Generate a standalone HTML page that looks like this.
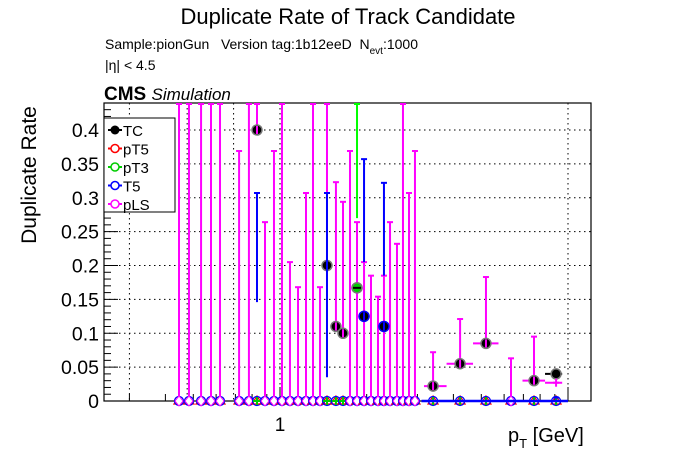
<!DOCTYPE html>
<html><head><meta charset="utf-8"><style>
body{margin:0;background:#fff;}
svg{display:block;font-family:"Liberation Sans",sans-serif;}
</style></head><body>
<svg id="chart" width="696" height="472" viewBox="0 0 696 472">
<rect width="696" height="472" fill="#fff"/>
<text x="348" y="24" font-size="22" text-anchor="middle">Duplicate Rate of Track Candidate</text>
<text x="105" y="49" font-size="14">Sample:pionGun&#160;&#160;&#160;Version tag:1b12eeD&#160;&#160;N<tspan font-size="10" dy="5">evt</tspan><tspan dy="-5">:1000</tspan></text>
<text x="105" y="70" font-size="14">|η| &lt; 4.5</text>
<text x="104" y="100" font-size="19" font-weight="bold">CMS <tspan font-weight="normal" font-style="italic" font-size="17">Simulation</tspan></text>
<text transform="translate(36,175) rotate(-90)" font-size="21" text-anchor="middle">Duplicate Rate</text>
<text x="508" y="442" font-size="20">p<tspan font-size="13" dy="6">T</tspan><tspan dy="-6"> [GeV]</tspan></text>
<g id="grid"></g>
<g id="axes"></g>
<g id="marks"></g>
<g id="legend">
<rect x="104" y="118" width="71" height="94" fill="#fff" stroke="#000" stroke-width="1"/>
</g>
</svg>
<script>
const pt = [0.446,0.483,0.532,0.576,0.619,0.721,0.780,0.832,0.887,0.953,1.016,1.083,1.155,1.231,1.302,1.377,1.456,1.564,1.655,1.750,1.851,1.958,2.070,2.189,2.296,2.410,2.548,2.673,2.805,2.942,3.40,4.22,5.19,6.34,7.62,9.09];
const tcRate = [0,0,0,0,0,0,0,0.4,0,0,0,0,0,0,0,0,0.2,0.11,0.1,0,0.167,0.125,0,0,0.11,0,0,0,0,0,0.022,0.055,0.085,0,0.03,0.04];
const plsRate = [0,0,0,0,0,0,0,0.4,0,0,0,0,0,0,0,0,0.2,0.11,0.1,0,0,0,0,0,0,0,0,0,0,0,0.022,0.055,0.085,0,0.03,0.027];
const plsUpper = [0.5,0.5,0.5,0.5,0.5,0.369,0.5,0.5,0.264,0.369,0.5,0.205,0.168,0.307,0.5,0.168,0.5,0.323,0.294,0.369,0.264,0.205,0.185,0.154,0.185,0.264,0.232,0.5,0.307,0.369,0.072,0.121,0.183,0.063,0.095,0.027];
const pt3Point = [1.851]; const pt3Value=[0.167]; const pt3Upper=[0.5]; const pt3Lower=[0.27];
const t5Point = [0.832,1.456,1.958,2.296,9.09]; const t5Value=[0,0,0.125,0.11,0.005]; const t5Upper=[0.307,0.307,0.357,0.322,0.005]; const t5Lower=[0.146,0.035,0.205,0.185,0.005];
const yTicks = [0,0.05,0.1,0.15,0.2,0.25,0.3,0.35,0.4];
const yTickLabels = ["0","0.05","0.1","0.15","0.2","0.25","0.3","0.35","0.4"];
const xGrid = [0.3,0.476,0.69,1,10];
const legendLabels = ["TC","pT5","pT3","T5","pLS"];
const legendColors = ["#000","#f00","#0c0","#00f","#f0f"];

const L=104,R=591,T=103,B=401;
const ys=v=>B-v*677.5;
const xs=p=>280+Math.log10(p)*288;
const NS="http://www.w3.org/2000/svg";
function mk(parent,tag,attrs){const e=document.createElementNS(NS,tag);for(const k in attrs)e.setAttribute(k,attrs[k]);document.getElementById(parent).appendChild(e);return e;}
const clip=v=>Math.max(ys(Math.min(v,0.44)),T);

yTicks.forEach((v,i)=>{if(i===0)return;const l=mk('grid','line',{x1:L,x2:R,y1:ys(v),y2:ys(v),stroke:'#000','stroke-dasharray':'1.5,3.5','stroke-width':1});

});
xGrid.forEach(p=>{const l=mk('grid','line',{x1:xs(p),x2:xs(p),y1:T,y2:B,stroke:'#000','stroke-dasharray':'1.5,3.5','stroke-width':1});

});
const fr=mk('axes','rect',{x:L,y:T,width:R-L,height:B-T,fill:'none',stroke:'#000','stroke-width':1.2});


for(let v=0;v<=0.44;v+=0.01){const major=Math.abs(v/0.05-Math.round(v/0.05))<1e-6;
mk('axes','line',{x1:L,x2:L+(major?14:7),y1:ys(v),y2:ys(v),stroke:'#000'});}
yTicks.forEach((v,i)=>{const t=mk('axes','text',{x:L-5,y:ys(v)+7,'font-size':19.5,'text-anchor':'end'});t.textContent=yTickLabels[i];

});
const x1=mk('axes','text',{x:280,y:431,'font-size':19,'text-anchor':'middle'});x1.textContent="1";


[0.3,0.4,0.5,0.6,0.7,0.8,0.9,1,2,3,4,5,6,7,8,9,10].forEach(p=>{mk('axes','line',{x1:xs(p),x2:xs(p),y1:B,y2:B-(p===1||p===10?14:7),stroke:'#000'});});

pt.forEach((p,i)=>{
  const x=xs(p);
  const lo=i>0?Math.sqrt(pt[i-1]*p):p*0.95, hi=i<pt.length-1?Math.sqrt(pt[i+1]*p):p*1.05;
  const g=mk('marks','g',{});
  
  
  mk('marks','path',{d:`M${x-5},${B+3}L${x},${B-5}L${x+5},${B+3}Z`,fill:'none',stroke:'#f00','stroke-width':1.2});
  mk('marks','circle',{cx:x,cy:B,r:4.5,fill:'none',stroke:'#00f','stroke-width':1.2});
  mk('marks','path',{d:`M${x-4},${B}H${x+4}M${x},${B-4}V${B+4}`,stroke:'#0c0','stroke-width':2});
  const e=mk('marks','line',{x1:x,x2:x,y1:ys(plsRate[i]),y2:clip(plsUpper[i]),stroke:'#f0f','stroke-width':2});
  
  
  if(plsUpper[i]<0.44) mk('marks','line',{x1:x-3,x2:x+3,y1:ys(plsUpper[i]),y2:ys(plsUpper[i]),stroke:'#f0f','stroke-width':2});
  else mk('marks','line',{x1:x-3,x2:x+3,y1:T+1,y2:T+1,stroke:'#f0f','stroke-width':2});
  if(p>3) mk('marks','line',{x1:xs(lo),x2:xs(hi),y1:ys(plsRate[i]),y2:ys(plsRate[i]),stroke:'#f0f','stroke-width':2});
  if(tcRate[i]>0){
    if(p>3 && tcRate[i]!==plsRate[i]) mk('marks','line',{x1:xs(lo),x2:xs(hi),y1:ys(tcRate[i]),y2:ys(tcRate[i]),stroke:'#000','stroke-width':2});
    const c=mk('marks','circle',{cx:x,cy:ys(tcRate[i]),r:5,fill:'#000',stroke:'#777','stroke-width':1.5});
    
    
  }
  if(plsRate[i]>0) mk('marks','line',{x1:x,x2:x,y1:ys(plsRate[i])-4,y2:ys(plsRate[i])+4,stroke:'#f0f','stroke-width':2});
  else mk('marks','path',{d:`M${x-4},${B}L${x},${B-5}L${x+4},${B}L${x},${B+5}Z`,fill:'#fff',stroke:'#f0f','stroke-width':1});
});
mk('marks','line',{x1:xs(3.1),x2:xs(10),y1:B,y2:B,stroke:'#00f','stroke-width':2.5});
t5Point.forEach((p,i)=>{const x=xs(p);
  const l=mk('marks','line',{x1:x,x2:x,y1:ys(t5Lower[i]),y2:ys(t5Upper[i]),stroke:'#00f','stroke-width':2});
  
  
  mk('marks','line',{x1:x-3,x2:x+3,y1:ys(t5Upper[i]),y2:ys(t5Upper[i]),stroke:'#00f','stroke-width':2});
  if(t5Value[i]>0.01){mk('marks','circle',{cx:x,cy:ys(t5Value[i]),r:5,fill:'#000',stroke:'#00f','stroke-width':1.5});
  mk('marks','line',{x1:x,x2:x,y1:ys(t5Value[i])-4,y2:ys(t5Value[i])+4,stroke:'#00f','stroke-width':2});}
});
pt3Point.forEach((p,i)=>{const x=xs(p);
  const l=mk('marks','line',{x1:x,x2:x,y1:ys(pt3Lower[i]),y2:clip(pt3Upper[i]),stroke:'#0f0','stroke-width':2});
  
  
  mk('marks','line',{x1:x-3,x2:x+3,y1:T+1,y2:T+1,stroke:'#0f0','stroke-width':2});
  mk('marks','circle',{cx:x,cy:ys(pt3Value[i]),r:5,fill:'#0c0',stroke:'#777','stroke-width':1.5});
  mk('marks','line',{x1:x-4,x2:x+4,y1:ys(pt3Value[i]),y2:ys(pt3Value[i]),stroke:'#000','stroke-width':2});
});
legendLabels.forEach((lab,i)=>{const y=130+i*18.5;
  const g=mk('legend','g',{});
  
  
  mk('legend','line',{x1:108,x2:122,y1:y,y2:y,stroke:legendColors[i],'stroke-width':2});
  if(i===0) mk('legend','circle',{cx:115,cy:y,r:4.5,fill:'#000'});
  else mk('legend','circle',{cx:115,cy:y,r:4,fill:'#fff',stroke:legendColors[i],'stroke-width':1.5});
  const t=mk('legend','text',{x:123,y:y+6,'font-size':15});t.textContent=lab;
  
  
});
</script>
</body></html>
